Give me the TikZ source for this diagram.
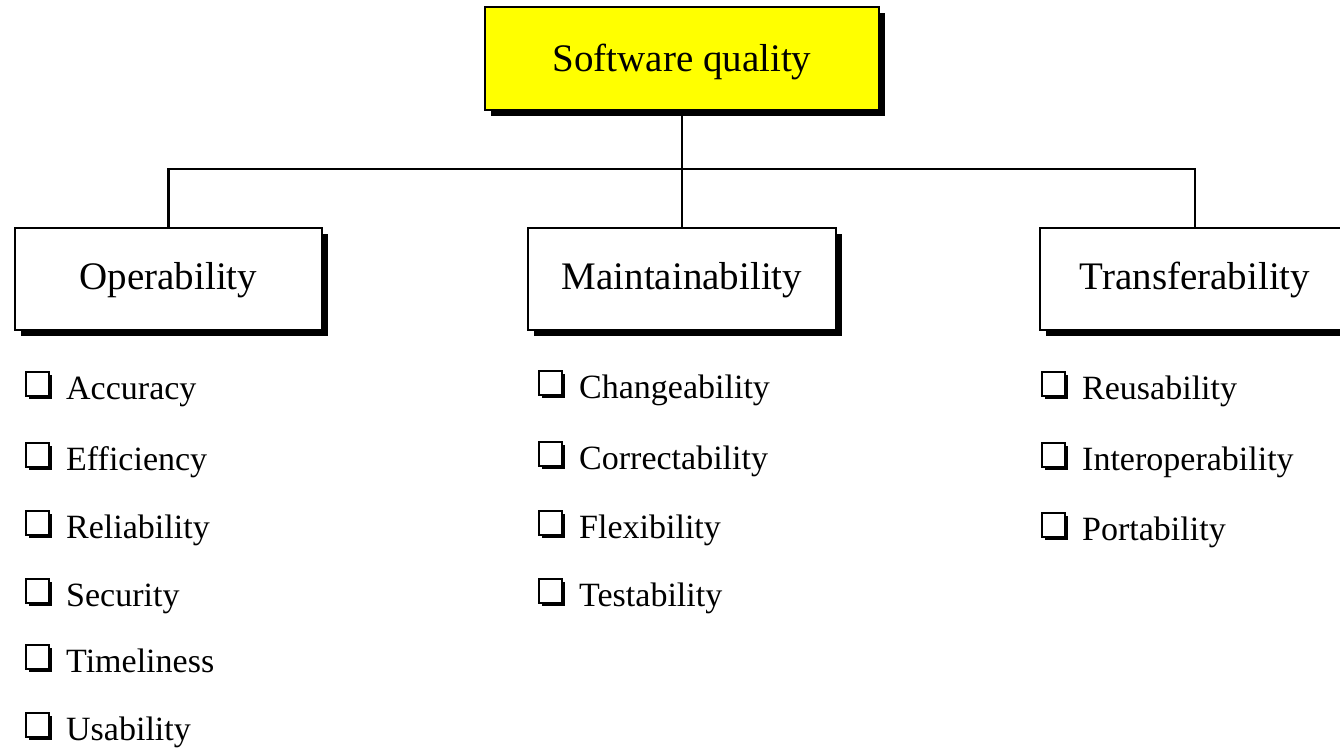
\documentclass[tikz,border=0pt]{standalone}
\usepackage{fontspec}
\setmainfont{Liberation Serif}
\usetikzlibrary{shadows}
\definecolor{qyellow}{RGB}{255,255,0}
\begin{document}
\begin{tikzpicture}[x=1pt,y=-1pt,
  box/.style={draw=black, line width=1.8pt, fill=white, minimum height=102pt, inner sep=0pt,
    font=\fontsize{39}{44}\selectfont, text height=20pt, text depth=0pt,
    drop shadow={shadow xshift=6pt, shadow yshift=-6pt, fill=black, opacity=1}},
  topbox/.style={box, fill=qyellow, minimum width=394pt, minimum height=103pt, text height=25pt},
  item/.style={anchor=base west, inner sep=0pt, font=\fontsize{34}{40}\selectfont},
  chk/.style={draw=black, line width=1.8pt, fill=white, minimum width=23pt, minimum height=24pt,
    inner sep=0pt, anchor=south west, xshift=-41pt, yshift=2pt,
    drop shadow={shadow xshift=3pt, shadow yshift=-3pt, fill=black, opacity=1}},
  conn/.style={line width=2.5pt, draw=black}
]
\clip (0,0) rectangle (1340,747);
\useasboundingbox (0,0) rectangle (1340,747);
\fill[white] (0,0) rectangle (1340,747);

\coordinate (j) at (682,169);
\node[topbox] (sq) at (682,58.5) {Software quality};
\node[box, minimum width=307pt] (op) at (168.5,279) {Operability};
\node[box, minimum width=308pt] (ma) at (682,279) {Maintainability};
\node[box, minimum width=310pt] (tr) at (1195,279) {Transferability};

\draw[conn] (sq.south) -- (j);
\draw[conn] (op.north) |- (j);
\draw[conn] (tr.north) |- (j);
\draw[conn] (j) -- (ma.north);

% Operability items
\node[item] (o1) at (66,399) {Accuracy};
\node[item] (o2) at (66,470) {Efficiency};
\node[item] (o3) at (66,538) {Reliability};
\node[item] (o4) at (66,606) {Security};
\node[item] (o5) at (66,672) {Timeliness};
\node[item] (o6) at (66,740) {Usability};
% Maintainability items
\node[item] (m1) at (579,398) {Changeability};
\node[item] (m2) at (579,469) {Correctability};
\node[item] (m3) at (579,538) {Flexibility};
\node[item] (m4) at (579,606) {Testability};
% Transferability items
\node[item] (t1) at (1082,399) {Reusability};
\node[item] (t2) at (1082,470) {Interoperability};
\node[item] (t3) at (1082,540) {Portability};

\foreach \n in {o1,o2,o3,o4,o5,o6,m1,m2,m3,m4,t1,t2,t3}
  \node[chk] (c\n) at (\n.base west) {};
\end{tikzpicture}
\end{document}
